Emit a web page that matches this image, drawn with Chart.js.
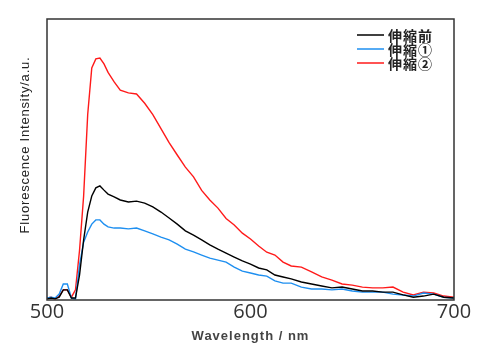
<!DOCTYPE html>
<html>
<head>
<meta charset="utf-8">
<script src="https://cdn.jsdelivr.net/npm/chart.js@4"></script>
<style>
  html, body { margin: 0; padding: 0; background: #fff; }
  #wrap { width: 480px; height: 347px; }
</style>
</head>
<body>
<div id="wrap"><canvas id="spectrumChart"></canvas></div>
<script>
// wavelength (nm)
var wavelengths = [500, 502, 504, 506, 508, 510, 512, 514, 516, 518, 520, 522, 524, 526, 528, 530, 533, 536, 540, 544,
    548, 552, 556, 560, 564, 568, 572, 576, 580, 584, 588, 592, 596, 600, 604, 608, 612, 616, 620, 625,
    630, 635, 640, 645, 650, 655, 660, 665, 670, 675, 680, 685, 690, 695, 700];

// intensities (a.u.)
var beforeStretch = [0.4, 0.7, 0.4, 1.0, 3.6, 3.6, 0.7, 0.7, 8.9, 21.4, 31.3, 37.0, 39.9, 40.6, 39.1, 37.7, 36.7, 35.6, 34.9, 35.2,
    34.5, 33.1, 31.3, 29.2, 27.0, 24.6, 23.1, 21.4, 19.6, 18.1, 16.7, 15.3, 13.9, 12.8, 11.4, 10.7, 8.9, 8.2, 7.5, 6.4,
    5.7, 5.0, 4.3, 4.6, 3.9, 3.2, 3.2, 2.8, 2.8, 1.8, 1.0, 1.4, 2.1, 1.0, 0.7];
var stretch1 = [0.7, 1.0, 0.7, 2.1, 5.7, 5.7, 0.7, 0.4, 12.5, 20.6, 24.2, 27.0, 28.5, 28.5, 27.0, 26.0, 25.6, 25.6, 25.3, 25.6,
    24.6, 23.5, 22.4, 21.4, 19.9, 18.1, 17.1, 16.0, 14.9, 14.2, 13.5, 11.7, 10.3, 9.6, 8.9, 8.5, 6.8, 6.0, 6.0, 4.6,
    3.9, 3.9, 3.6, 3.9, 3.2, 2.8, 2.8, 2.8, 2.1, 1.8, 1.4, 2.5, 2.1, 1.0, 0.7];
var stretch2 = [0.7, 1.0, 0.4, 1.4, 3.6, 3.6, 1.0, 3.6, 17.8, 37.0, 66.0, 82.6, 85.8, 86.1, 84.0, 81.0, 77.6, 74.7, 73.7, 73.3,
    70.0, 66.0, 61.0, 56.0, 51.6, 47.3, 43.8, 39.0, 35.6, 32.7, 29.0, 26.7, 23.8, 21.7, 19.2, 17.0, 16.0, 13.5, 12.1, 11.7,
    10.0, 8.2, 7.1, 5.7, 5.3, 4.6, 4.3, 4.3, 4.6, 2.8, 1.8, 2.8, 2.5, 1.4, 1.0];

var seriesLabels = ['伸縮前', '伸縮①', '伸縮②'];
var xTicks = [500, 600, 700];

function toPoints(ys) {
    return ys.map(function (y, i) { return { x: wavelengths[i], y: y }; });
}

// frame, legend and axis titles (drawn by hand for the letter spacing)
var decorations = {
    id: 'decorations',
    afterDraw: function (chart) {
        var ctx = chart.ctx;
        var a = chart.chartArea;
        ctx.save();
        ctx.strokeStyle = '#333';
        ctx.lineWidth = 1.5;
        ctx.strokeRect(a.left, a.top, a.right - a.left, a.bottom - a.top);

        // legend
        var rows = [35, 49, 63];
        ctx.font = 'bold 14px "Noto Sans CJK JP"';
        ctx.letterSpacing = '1px';
        ctx.textBaseline = 'middle';
        chart.data.datasets.forEach(function (ds, i) {
            ctx.strokeStyle = ds.borderColor;
            ctx.lineWidth = 1.5;
            ctx.beginPath();
            ctx.moveTo(357, rows[i]);
            ctx.lineTo(384, rows[i]);
            ctx.stroke();
            ctx.fillStyle = '#222';
            ctx.fillText(ds.label, 388, rows[i] + 1);
        });

        // x axis title
        ctx.textAlign = 'center';
        ctx.font = 'bold 13px "Liberation Sans"';
        ctx.letterSpacing = '1px';
        ctx.fillStyle = '#444';
        ctx.fillText('Wavelength / nm', (a.left + a.right) / 2, 336);

        // y axis title
        ctx.translate(25, 145);
        ctx.rotate(-Math.PI / 2);
        ctx.font = '13px "Liberation Sans"';
        ctx.letterSpacing = '0.8px';
        ctx.fillStyle = '#222';
        ctx.fillText('Fluorescence Intensity/a.u.', 0, 0);
        ctx.restore();
    }
};

var spectrumChart = new Chart(document.getElementById('spectrumChart'), {
    type: 'line',
    data: {
        datasets: [{
            label: seriesLabels[0],
            data: toPoints(beforeStretch),
            borderColor: '#000000',
            borderWidth: 1.4,
            pointRadius: 0,
            tension: 0
        }, {
            label: seriesLabels[1],
            data: toPoints(stretch1),
            borderColor: '#1e8ff0',
            borderWidth: 1.4,
            pointRadius: 0,
            tension: 0
        }, {
            label: seriesLabels[2],
            data: toPoints(stretch2),
            borderColor: '#ff1a1a',
            borderWidth: 1.4,
            pointRadius: 0,
            tension: 0
        }]
    },
    options: {
        responsive: true,
        maintainAspectRatio: false,
        animation: false,
        layout: { padding: { left: 47, top: 19, right: 26, bottom: 0 } },
        plugins: {
            legend: { display: false },
            tooltip: { enabled: false }
        },
        scales: {
            x: {
                type: 'linear',
                min: 500,
                max: 700,
                afterBuildTicks: function (s) { s.ticks = xTicks.map(function (v) { return { value: v }; }); },
                afterFit: function (s) { s.height = 47; },
                grid: { display: false, drawTicks: false },
                border: { display: false },
                ticks: {
                    font: { size: 20, family: 'Open Sans' },
                    color: '#333',
                    padding: 0,
                    maxRotation: 0
                }
            },
            y: {
                display: false,
                min: 0,
                max: 100
            }
        }
    },
    plugins: [decorations]
});
</script>
</body>
</html>
